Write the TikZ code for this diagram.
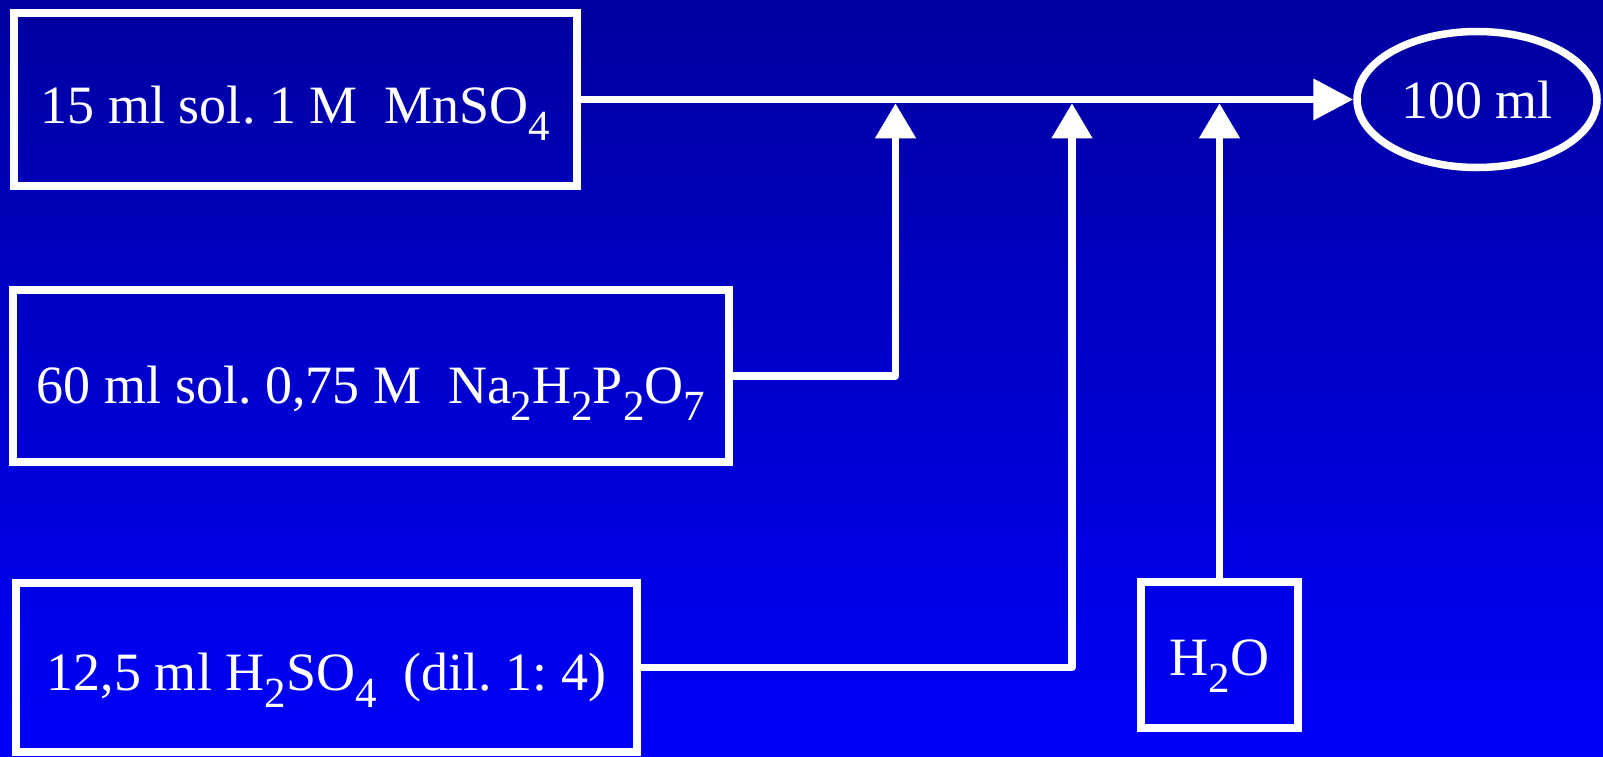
\documentclass[tikz,border=0pt]{standalone}
\usepackage{fontspec}
\setmainfont{Liberation Serif}
\usetikzlibrary{arrows.meta,shapes.geometric}
% chemical subscript: smaller digit, lowered below the baseline
\newcommand\chemsub[1]{\raisebox{-17bp}{\fontsize{43bp}{43bp}\selectfont #1}}
\definecolor{bgtop}{RGB}{0,0,160}
\definecolor{bgbottom}{RGB}{0,0,250}
\frenchspacing
\begin{document}
\begin{tikzpicture}[x=1bp,y=-1bp]
\tikzset{
  box/.style={draw=white, line width=7.5bp, rectangle, inner sep=0pt,
    text=white, font=\fontsize{54bp}{60bp}\selectfont, text depth=0pt},
  oval/.style={box, ellipse},
  flow/.style={draw=white, line width=7.5bp, line join=round},
  mainarrow/.style={flow, -{Triangle[length=40bp,width=40bp]}},
  feedarrow/.style={flow, -{Triangle[length=35bp,width=39bp]}}
}
% background
\shade[top color=bgtop, bottom color=bgbottom] (0,0) rectangle (1603,757);
\useasboundingbox (0,0) rectangle (1603,757);

% reagent boxes
\node[box, minimum width=563bp, minimum height=173bp, text height=47bp]
  (mn) at (295.5,99.5) {15 ml sol. 1 M\ \ MnSO\chemsub{4}};
\node[box, minimum width=716bp, minimum height=172bp, text height=54bp]
  (na) at (371,376) {60 ml sol. 0,75 M\ \ Na\chemsub{2}H\chemsub{2}P\chemsub{2}O\chemsub{7}};
\node[box, minimum width=621bp, minimum height=169bp, text height=46bp]
  (acid) at (326.5,667.5) {12,5 ml H\chemsub{2}SO\chemsub{4}\ \ (dil. 1: 4)};
\node[box, minimum width=157bp, minimum height=146bp, text height=40bp]
  (water) at (1219.5,655) {H\chemsub{2}O};

% final volume
\node[oval, minimum width=240bp, minimum height=136bp, text height=38bp]
  (total) at (1477,99.5) {100 ml};

% junctions on the underside of the main line
\coordinate (j1) at (895.5,103.25);
\coordinate (j2) at (1072,103.25);
\coordinate (j3) at (1219.5,103.25);

% connectors
\draw[mainarrow] (mn.east) -- (total.west);
\draw[feedarrow] (na.east) -| (j1);
\draw[feedarrow] (acid.east) -| (j2);
\draw[feedarrow] (water.north) -- (j3);
\end{tikzpicture}
\end{document}
